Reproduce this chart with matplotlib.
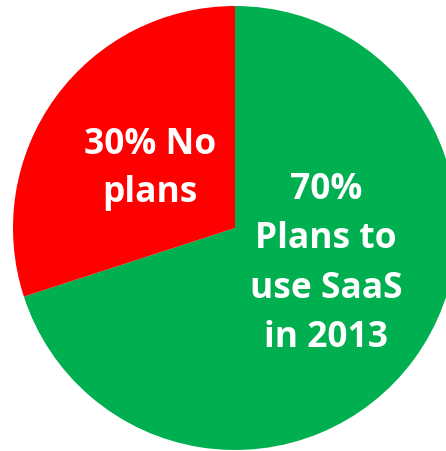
import matplotlib
matplotlib.use("Agg")
import matplotlib.pyplot as plt

# Survey shares
shares = [70, 30]
labels = ["Plans to\nuse SaaS\nin 2013", "No\nplans"]
colors = ["#00B050", "#FF0000"]

W, H = 446, 451
fig = plt.figure(figsize=(W / 100, H / 100), dpi=100)
ax = fig.add_axes([0, 0, 1, 1])

cx, cy, r = 235, H - 228, 222
ax.pie(shares, colors=colors, startangle=90, counterclock=False,
       center=(cx, cy), radius=r, frame=True,
       wedgeprops=dict(linewidth=0))
ax.set_xlim(0, W)
ax.set_ylim(0, H)
ax.set_aspect("equal")
ax.axis("off")

font = dict(color="white", fontweight="bold", family=["Open Sans", "DejaVu Sans"],
            ha="center", va="center", multialignment="center", fontsize=25.5)

green_text = f"{shares[0]}%\n{labels[0]}"
first, second = labels[1].split("\n")
red_text = f"{shares[1]}% {first}\n{second}"

ax.text(326, H - 264, green_text, linespacing=1.5, **font)
ax.text(150, H - 169, red_text, linespacing=1.42, **font)

fig.savefig("out.png", dpi=100)
